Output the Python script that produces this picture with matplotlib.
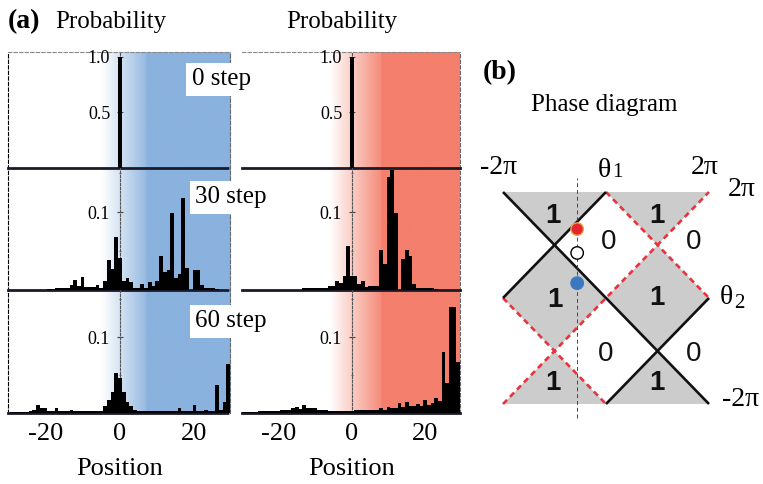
import numpy as np
import matplotlib
matplotlib.use('Agg')
import matplotlib.pyplot as plt
from matplotlib.patches import Polygon
from matplotlib.ticker import MultipleLocator
from matplotlib.colors import to_rgb

plt.rcParams['font.family'] = ['Liberation Serif', 'DejaVu Serif']
plt.rcParams['axes.unicode_minus'] = False

# ---------------- data ----------------
positions = np.arange(-30, 31)
step_labels = ['0 step', '30 step', '60 step']

# probability at t = 0 (same for both walks)
prob_0 = [0.0] * 30 + [1.0] + [0.0] * 30

# left (blue) walk, positions -30 ... 30
blue_30 = [0, 0, 0, 0, 0, 0.0005, 0.0005, 0.0005, 0.0005, 0.0005,
           0.0005, 0.001, 0.001, 0.002, 0.002, 0.002, 0.002, 0.007, 0.013, 0.005,
           0.017, 0.004, 0.004, 0.004, 0.007, 0.003, 0.012, 0.039, 0.027, 0.068,
           0.041, 0.012, 0.016, 0.010, 0.003, 0.003, 0.008, 0.003, 0.010, 0.005,
           0.012, 0.044, 0.023, 0.026, 0.099, 0.016, 0.020, 0.118, 0.028, 0.0,
           0.026, 0.026, 0.007, 0.002, 0.002, 0.002, 0.001, 0.0005, 0.0005, 0.0005,
           0]
blue_60 = [0, 0.001, 0.001, 0.001, 0.001, 0.001, 0.002, 0.004, 0.011, 0.007,
           0.006, 0.002, 0.002, 0.006, 0.003, 0.003, 0.003, 0.004, 0.002, 0.002,
           0.002, 0.003, 0.002, 0.002, 0.002, 0.002, 0.009, 0.017, 0.028, 0.053,
           0.046, 0.028, 0.015, 0.009, 0.004, 0.002, 0.002, 0.002, 0.002, 0.002,
           0.002, 0.002, 0.003, 0.002, 0.002, 0.002, 0.006, 0.002, 0.002, 0.002,
           0.011, 0.002, 0.002, 0.004, 0.002, 0.002, 0.037, 0.004, 0.014, 0.064,
           0]

# right (red) walk
red_30 = [0, 0, 0, 0, 0, 0, 0, 0, 0, 0,
          0.0005, 0.0005, 0.0005, 0.0005, 0.0005, 0.0005, 0.0005, 0.0025, 0.0025, 0.0025,
          0.0025, 0.0025, 0.0025, 0.0025, 0.0055, 0.0055, 0.012, 0.009, 0.018, 0.057,
          0.018, 0.018, 0.008, 0.012, 0.004, 0.0055, 0.0055, 0.0055, 0.051, 0.034,
          0.146, 0.154, 0.099, 0.0, 0.040, 0.052, 0.044, 0.008, 0.0025, 0.0025,
          0.0025, 0.0025, 0.0025, 0.001, 0, 0, 0, 0, 0, 0,
          0]
red_60 = [0.001, 0.001, 0.001, 0.001, 0.001, 0.002, 0.002, 0.002, 0.002, 0.002,
          0.002, 0.0035, 0.0035, 0.0035, 0.0065, 0.0085, 0.0055, 0.011, 0.0065, 0.0065,
          0.0065, 0.004, 0.004, 0.004, 0.003, 0.003, 0.003, 0.003, 0.003, 0.003,
          0.003, 0.0035, 0.0035, 0.0035, 0.0035, 0.0035, 0.0035, 0.0035, 0.0065, 0.004,
          0.0085, 0.0065, 0.0065, 0.013, 0.0085, 0.015, 0.0095, 0.0095, 0.012, 0.009,
          0.017, 0.011, 0.013, 0.020, 0.016, 0.080, 0.040, 0.139, 0.139, 0.067,
          0]

row_ymax = [1.045, 0.157, 0.162]
row_yticks = [[0.5, 1.0], [0.1], [0.1]]
row_ytick_labels = [['0.5', '1.0'], ['0.1'], ['0.1']]
xtick_vals = [-20, 0, 20]
xtick_labels = ['-20', '0', '20']

# phase diagram, coordinates in units of pi
phase_one_regions = [
    [(-2, 2), (0, 2), (-1, 1)],
    [(0, 2), (2, 2), (1, 1)],
    [(-2, 0), (-1, 1), (0, 0), (-1, -1)],
    [(0, 0), (1, 1), (2, 0), (1, -1)],
    [(-2, -2), (0, -2), (-1, -1)],
    [(0, -2), (2, -2), (1, -1)],
]
solid_edges = [[(-2, 2), (2, -2)], [(0, 2), (-2, 0)], [(2, 0), (0, -2)]]
dashed_edges = [[(-2, 0), (0, -2)], [(0, 2), (2, 0)], [(-2, -2), (2, 2)]]
one_label_xy = [(-1.03, 1.55), (0.99, 1.55), (-1.0, -0.03), (0.99, 0.0),
                (-1.03, -1.6), (0.99, -1.6)]
zero_label_xy = [(0.05, 1.05), (1.7, 1.05), (0.0, -1.05), (1.7, -1.05)]
theta1_cut = -0.56
point_theta2 = [1.30, 0.85, 0.28]
point_faces = ['#e3262d', 'white', '#3a78c0']
point_edges = ['#f0a040', 'black', '#3a78c0']

# ---------------- layout ----------------
W, H = 763, 484


def fig_rect(x0, y0, x1, y1):
    return [x0 / W, 1 - y1 / H, (x1 - x0) / W, (y1 - y0) / H]


def fig_xy(x, y):
    return x / W, 1 - y / H


fig = plt.figure(figsize=(W / 100, H / 100), dpi=100)
xlim = (-30, 29.5)
row_edges = [52, 168, 290, 413]

panels = [
    dict(x0=8, x1=230, color='#8ab2de', grad=(-5, 7), data=[prob_0, blue_30, blue_60], left_border=True),
    dict(x0=242, x1=460, color='#f47f6c', grad=(-6, 8), data=[prob_0, red_30, red_60], left_border=False),
]

for p in panels:
    frame = fig.add_axes(fig_rect(p['x0'], row_edges[0], p['x1'], row_edges[-1]))
    frame.set_xlim(xlim)
    frame.set_ylim(0, 1)
    # white -> colour fade around the origin, then the flat colour
    xs = np.linspace(xlim[0], xlim[1], 800)
    t = np.clip((xs - p['grad'][0]) / (p['grad'][1] - p['grad'][0]), 0, 1) * 0.9
    t[xs >= p['grad'][1]] = 1.0
    c = np.array(to_rgb(p['color']))
    rgb = (1 - t)[:, None] * np.ones(3) + t[:, None] * c
    frame.imshow(rgb[None, :, :], extent=[xlim[0], xlim[1], 0, 1], aspect='auto',
                 interpolation='bilinear', zorder=0)
    frame.set_xticks([])
    frame.set_yticks([])
    frame.spines['bottom'].set_visible(False)
    frame.spines['top'].set_linestyle((0, (3, 2)))
    frame.spines['top'].set_color('#888888')
    frame.spines['right'].set_linestyle((0, (3, 2)))
    frame.spines['right'].set_color('#666666')
    if p['left_border']:
        frame.spines['left'].set_linestyle((0, (3, 2)))
        frame.spines['left'].set_color('black')
        frame.spines['left'].set_linewidth(0.8)
    else:
        frame.spines['left'].set_visible(False)

    for i in range(3):
        ax = fig.add_axes(fig_rect(p['x0'], row_edges[i], p['x1'], row_edges[i + 1]))
        ax.patch.set_alpha(0)
        ax.bar(positions, p['data'][i], width=1.0, color='black', linewidth=0, zorder=3)
        ax.set_xlim(xlim)
        ax.set_ylim(0, row_ymax[i])
        ax.spines['top'].set_visible(False)
        ax.spines['right'].set_visible(False)
        ax.spines['left'].set_position(('data', 0))
        ax.spines['left'].set_linestyle((0, (2, 1.5)))
        ax.spines['left'].set_color('#555555')
        ax.spines['left'].set_linewidth(0.8)
        ax.spines['bottom'].set_linestyle((0, (1, 1)))
        ax.spines['bottom'].set_linewidth(2.0)
        ax.spines['bottom'].set_color('#1a1a2a')
        ax.set_yticks(row_yticks[i], row_ytick_labels[i])
        ax.yaxis.set_minor_locator(MultipleLocator(0.1 if i == 0 else 0.05))
        ax.tick_params(axis='y', which='major', direction='inout', length=4, width=0.8,
                       color='#444444', labelsize=13, pad=5)
        ax.tick_params(axis='y', which='minor', direction='inout', length=2, width=0.6,
                       color='#444444')
        if i == 2:
            ax.set_xticks(xtick_vals, xtick_labels)
            ax.tick_params(axis='x', length=0, labelsize=19, pad=7)
        else:
            ax.set_xticks([])

    fig.text(*fig_xy((p['x0'] + p['x1']) / 2 + 1, 469), 'Position', ha='center', va='center',
             fontsize=19)

fig.text(*fig_xy(24, 22), '(a)', ha='center', va='center', fontsize=20, fontweight='bold')
fig.text(*fig_xy(111, 22), 'Probability', ha='center', va='center', fontsize=18)
fig.text(*fig_xy(342, 22), 'Probability', ha='center', va='center', fontsize=18)

step_anchor = [(192, 85), (195, 203), (195, 327)]
for label, (sx, sy) in zip(step_labels, step_anchor):
    fig.text(*fig_xy(sx, sy), label, ha='left', va='baseline', fontsize=18, zorder=10,
             bbox=dict(facecolor='white', edgecolor='none', boxstyle='square,pad=0.22'))

# ---------------- phase diagram ----------------
fig.text(*fig_xy(500, 73), '(b)', ha='center', va='center', fontsize=20, fontweight='bold')
fig.text(*fig_xy(604, 105), 'Phase diagram', ha='center', va='center', fontsize=18)

axp = fig.add_axes(fig_rect(503, 192, 709, 404))
axp.set_xlim(-2, 2)
axp.set_ylim(-2, 2)
axp.axis('off')
for reg in phase_one_regions:
    axp.add_patch(Polygon(reg, closed=True, facecolor='#cccccc', edgecolor='none', zorder=1))
for (a, b) in solid_edges:
    axp.plot([a[0], b[0]], [a[1], b[1]], color='#111111', lw=1.9, zorder=3,
             solid_capstyle='butt', clip_on=False)
for (a, b) in dashed_edges:
    axp.plot([a[0], b[0]], [a[1], b[1]], color='#e8323c', lw=1.9, ls=(0, (2.2, 1.6)),
             zorder=2, clip_on=False)
axp.plot([theta1_cut, theta1_cut], [-2.26, 2.26], color='#444444', lw=0.7,
         ls=(0, (4, 3)), zorder=4, clip_on=False)
axp.scatter([theta1_cut] * len(point_theta2), point_theta2, s=80, c=point_faces,
            edgecolors=point_edges, linewidths=1.0, zorder=6, clip_on=False)

sans = ['Liberation Sans', 'DejaVu Sans']
for (lx, ly) in one_label_xy:
    axp.text(lx, ly, '1', ha='center', va='center', fontsize=20, fontweight='bold',
             family=sans, color='#111111', zorder=5)
for (lx, ly) in zero_label_xy:
    axp.text(lx, ly, '0', ha='center', va='center', fontsize=20,
             family=sans, color='#111111', zorder=5)

axp.text(-2.08, 2.47, '-2π', ha='center', va='center', fontsize=20)
axp.text(-0.16, 2.28, 'θ', ha='left', va='baseline', fontsize=20)
axp.text(0.12, 2.28, '1', ha='left', va='baseline', fontsize=15)
axp.text(1.92, 2.47, '2π', ha='center', va='center', fontsize=20)
axp.text(2.64, 2.04, '2π', ha='center', va='center', fontsize=20)
axp.text(2.21, 0.0, 'θ', ha='left', va='center', fontsize=20)
axp.text(2.49, -0.1, '2', ha='left', va='center', fontsize=15)
axp.text(2.62, -1.92, '-2π', ha='center', va='center', fontsize=20)

fig.savefig('out.png', dpi=100)
